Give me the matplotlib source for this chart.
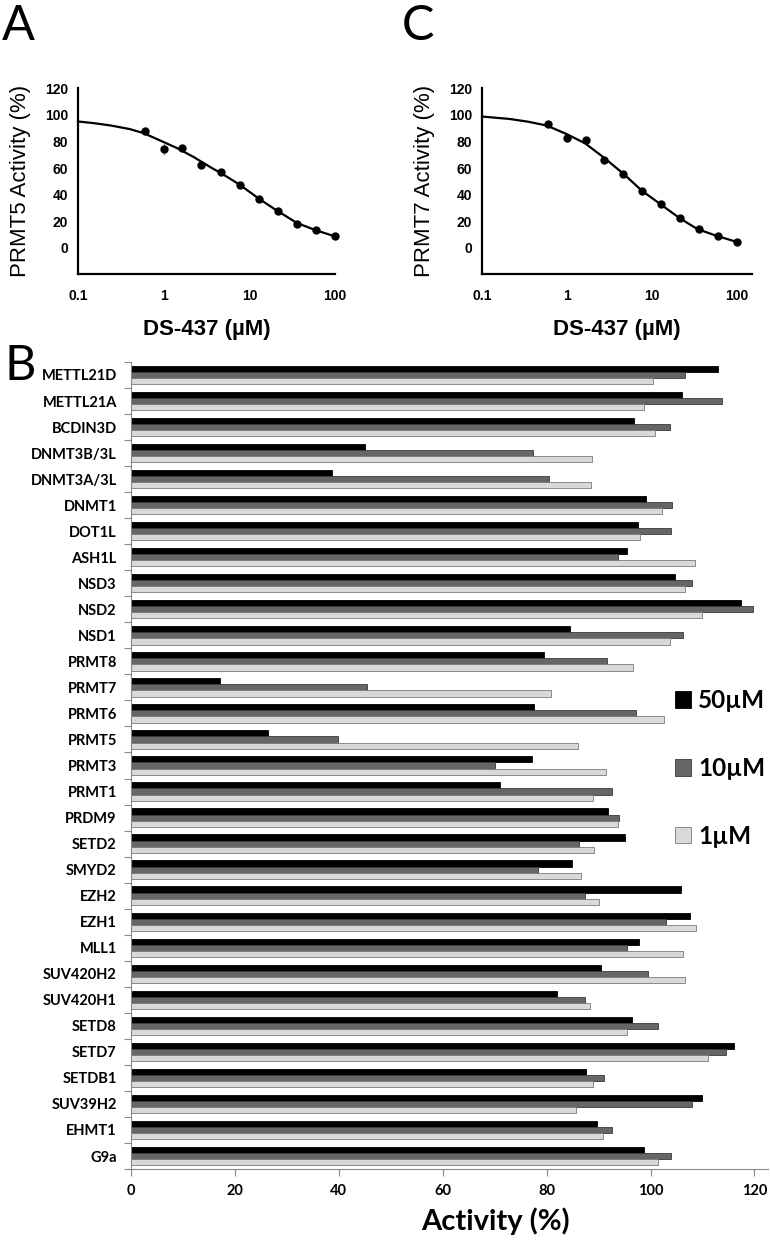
import numpy as np
import matplotlib
matplotlib.use('Agg')
import matplotlib.pyplot as plt

# dose response (panels A and C)
conc = [0.6, 1.0, 1.65, 2.75, 4.6, 7.7, 12.9, 21.4, 35.7, 59.5, 100]
prmt5_act = [87.5, 74.3, 75.0, 62.5, 56.7, 47.5, 37.0, 28.0, 18.2, 13.2, 8.7]
prmt5_err = [2.5, 4.5, 1.5, 1, 1, 1, 1, 1, 1, 1, 1]
prmt7_act = [93.0, 82.5, 81.2, 66.2, 55.5, 43.0, 33.0, 22.5, 14.3, 9.2, 4.5]
prmt7_err = [1.5, 1.5, 1.5, 1, 1, 1, 1, 1, 1, 1, 1]

# fitted curves
fit5_x = [0.1, 0.15, 0.24, 0.4, 0.58, 0.91, 1.43, 2.25, 3.5, 5.0, 7.7, 12.9, 21, 36, 60, 100]
fit5_y = [95, 93.8, 92, 89.3, 86.3, 80.7, 75, 68.2, 60.7, 55, 47.5, 37, 28, 18.7, 13.2, 8.7]
fit7_x = [0.1, 0.21, 0.35, 0.58, 1.0, 1.63, 2.7, 4.6, 7.6, 12.5, 21, 34, 57, 100]
fit7_y = [98.7, 96.9, 94.8, 91.9, 85.4, 78.6, 68, 55.8, 43, 33, 22.5, 14.3, 9.2, 4.5]

# selectivity panel (B), top to bottom
enzymes = ['METTL21D', 'METTL21A', 'BCDIN3D', 'DNMT3B/3L', 'DNMT3A/3L', 'DNMT1', 'DOT1L',
           'ASH1L', 'NSD3', 'NSD2', 'NSD1', 'PRMT8', 'PRMT7', 'PRMT6', 'PRMT5', 'PRMT3',
           'PRMT1', 'PRDM9', 'SETD2', 'SMYD2', 'EZH2', 'EZH1', 'MLL1', 'SUV420H2',
           'SUV420H1', 'SETD8', 'SETD7', 'SETDB1', 'SUV39H2', 'EHMT1', 'G9a']
act_50 = [112.9, 106.0, 96.9, 45.1, 38.8, 99.2, 97.5, 95.4, 104.7, 117.5, 84.6, 79.6,
          17.1, 77.6, 26.5, 77.2, 71.0, 91.9, 95.1, 84.9, 105.9, 107.5, 97.8, 90.5,
          82.0, 96.5, 116.1, 87.6, 109.9, 89.7, 98.8]
act_10 = [106.6, 113.7, 103.8, 77.4, 80.4, 104.2, 103.9, 93.7, 107.9, 119.7, 106.2, 91.6,
          45.4, 97.2, 39.8, 70.1, 92.5, 94.0, 86.2, 78.3, 87.4, 102.9, 95.4, 99.5,
          87.4, 101.4, 114.6, 91.0, 108.0, 92.5, 103.9]
act_1 = [100.5, 98.7, 100.9, 88.8, 88.6, 102.3, 97.9, 108.6, 106.7, 110.0, 103.7, 96.6,
         80.8, 102.6, 86.1, 91.5, 89.0, 93.8, 89.2, 86.7, 90.0, 108.7, 106.2, 106.7,
         88.4, 95.4, 111.0, 89.0, 85.7, 90.8, 101.5]
doses = ['50µM', '10µM', '1µM']

fig = plt.figure(figsize=(7.7, 12.43), dpi=100)

def dose_panel(rect, act, err, fx, fy, ylabel, xmax):
    ax = fig.add_axes(rect)
    ax.plot(fx, fy, color='black', lw=1.6, solid_joinstyle='round', clip_on=False)
    ax.errorbar(conc, act, yerr=err, fmt='o', color='black', ms=5,
                ecolor='#999999', elinewidth=1, capsize=0, clip_on=False)
    ax.set_xscale('log')
    ax.set_xlim(0.1, xmax)
    ax.set_ylim(-19.5, 120.5)
    ax.set_yticks(range(0, 121, 20))
    ax.set_xticks([0.1, 1, 10, 100])
    ax.set_xticklabels(['0.1', '1', '10', '100'])
    ax.minorticks_off()
    ax.tick_params(length=0, labelsize=10)
    ax.tick_params(axis='x', pad=11)
    ax.tick_params(axis='y', pad=7)
    for lab in ax.get_xticklabels() + ax.get_yticklabels():
        lab.set_fontfamily('Liberation Sans')
        lab.set_fontweight('bold')
    for s in ['top', 'right']:
        ax.spines[s].set_visible(False)
    for s in ['left', 'bottom']:
        ax.spines[s].set_linewidth(1.6)
    ax.set_ylabel(ylabel, fontsize=16, family='Liberation Sans', labelpad=10)
    ax.set_xlabel('DS-437 (µM)', fontsize=16, family='Liberation Sans',
                  fontweight='bold', labelpad=11)
    return ax

dose_panel([0.1013, 0.7796, 0.334, 0.150], prmt5_act, prmt5_err, fit5_x, fit5_y,
           'PRMT5 Activity (%)', 100)
dose_panel([0.626, 0.7796, 0.3506, 0.150], prmt7_act, prmt7_err, fit7_x, fit7_y,
           'PRMT7 Activity (%)', 150)

# panel B
ax = fig.add_axes([0.1697, 0.0595, 0.8277, 0.6493])
n = len(enzymes)
y = np.arange(n)[::-1]
h = 0.235
ax.barh(y + h, act_50, height=h, color='black', edgecolor='black', lw=0.6, label=doses[0])
ax.barh(y, act_10, height=h, color='#666666', edgecolor='#3a3a3a', lw=0.6, label=doses[1])
ax.barh(y - h, act_1, height=h, color='#d9d9d9', edgecolor='#7a7a7a', lw=0.6, label=doses[2])
ax.set_ylim(-0.5, n - 0.5)
ax.set_xlim(0, 122.6)
ax.set_xticks(range(0, 121, 20))
ax.set_yticks(np.arange(-0.5, n, 1))
ax.set_yticklabels([])
ax.set_yticks(y, minor=True)
ax.set_yticklabels(enzymes, minor=True)
ax.tick_params(axis='y', which='major', length=5, color='#888888')
ax.tick_params(axis='y', which='minor', length=0, pad=10)
ax.tick_params(axis='x', length=5, color='#888888', pad=6)
for lab in ax.get_xticklabels() + ax.get_yticklabels(minor=True):
    lab.set_fontfamily('Lato')
    lab.set_fontweight('bold')
    lab.set_fontsize(10.5)
for s in ['top', 'right']:
    ax.spines[s].set_visible(False)
for s in ['left', 'bottom']:
    ax.spines[s].set_color('#888888')
ax.set_xlabel('Activity (%)', fontsize=21, family='Lato', fontweight='bold')
ax.xaxis.set_label_coords(0.572, -0.047)

fig.legend(loc='center left', bbox_to_anchor=(0.876, 0.382), frameon=False,
           prop={'family': 'Lato', 'weight': 'bold', 'size': 17.5},
           handlelength=0.68, handleheight=0.68, handletextpad=0.3,
           labelspacing=1.85, borderpad=0, borderaxespad=0)

# panel letters
fig.text(0.002, 0.997, 'A', fontsize=35, family='Lato', va='top')
fig.text(0.522, 0.997, 'C', fontsize=35, family='Lato', va='top')
fig.text(0.006, 0.723, 'B', fontsize=35, family='Lato', va='top')

fig.savefig('out.png', dpi=100)
